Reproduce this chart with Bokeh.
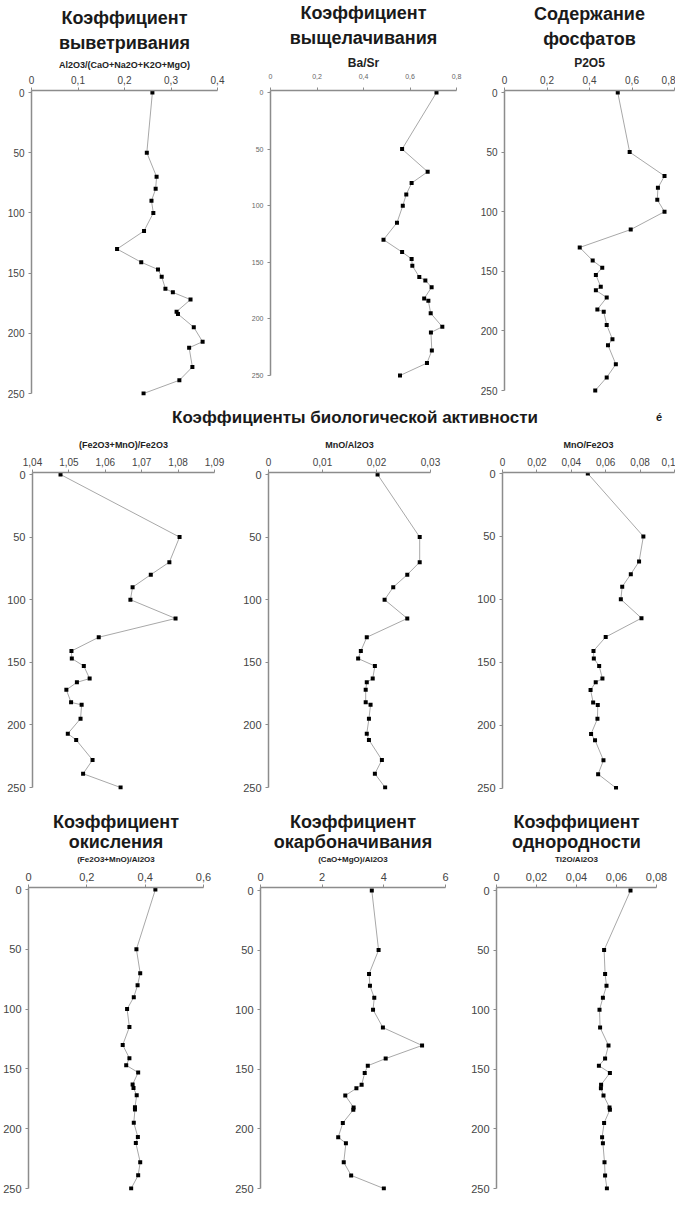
from bokeh.plotting import figure
from bokeh.models import Range1d, FixedTicker, CustomJSTickFormatter, Title, Div
from bokeh.layouts import column, row
from bokeh.embed import file_html
from bokeh.resources import INLINE

# ---------------- data ----------------
depth = [0, 50, 70, 80, 90, 100, 115, 130, 141, 147, 153, 163, 166, 172, 182, 184, 195, 207, 212, 228, 239, 250]

weathering = [0.260, 0.248, 0.269, 0.267, 0.258, 0.262, 0.242, 0.184, 0.236, 0.272, 0.280,
              0.288, 0.304, 0.342, 0.312, 0.315, 0.349, 0.368, 0.339, 0.346, 0.318, 0.241]
leaching = [0.714, 0.566, 0.676, 0.607, 0.584, 0.569, 0.544, 0.486, 0.566, 0.607, 0.610,
            0.640, 0.666, 0.693, 0.661, 0.679, 0.689, 0.739, 0.690, 0.694, 0.673, 0.557]
phosphate = [0.533, 0.589, 0.753, 0.722, 0.719, 0.753, 0.594, 0.354, 0.415, 0.460, 0.430,
             0.453, 0.430, 0.481, 0.437, 0.467, 0.481, 0.508, 0.487, 0.524, 0.481, 0.427]
fe_mn_fe = [1.0477, 1.0804, 1.0776, 1.0725, 1.0675, 1.0669, 1.0793, 1.0582, 1.0507, 1.0508, 1.0541,
            1.0557, 1.0522, 1.0493, 1.0506, 1.0535, 1.0532, 1.0497, 1.0520, 1.0565, 1.0539, 1.0642]
mn_al = [0.0202, 0.0280, 0.0280, 0.0257, 0.0231, 0.0215, 0.0257, 0.0182, 0.0171, 0.0166, 0.0197,
         0.0193, 0.0182, 0.0180, 0.0180, 0.0189, 0.0186, 0.0182, 0.0186, 0.0210, 0.0197, 0.0216]
mn_fe = [0.0496, 0.0819, 0.0794, 0.0746, 0.0696, 0.0688, 0.0808, 0.0600, 0.0529, 0.0531, 0.0562,
         0.0581, 0.0542, 0.0512, 0.0527, 0.0554, 0.0552, 0.0515, 0.0538, 0.0587, 0.0556, 0.0660]
oxidation = [0.435, 0.370, 0.383, 0.374, 0.361, 0.338, 0.346, 0.323, 0.346, 0.335, 0.376,
             0.357, 0.360, 0.371, 0.365, 0.365, 0.361, 0.375, 0.368, 0.383, 0.376, 0.352]
carbonation = [3.61, 3.83, 3.52, 3.55, 3.69, 3.65, 3.97, 5.24, 4.06, 3.48, 3.38,
               3.28, 3.11, 2.75, 3.02, 3.01, 2.67, 2.52, 2.77, 2.70, 2.94, 4.00]
homogeneity = [0.0670, 0.0538, 0.0543, 0.0550, 0.0532, 0.0515, 0.0518, 0.0560, 0.0543, 0.0512, 0.0567,
               0.0523, 0.0522, 0.0535, 0.0565, 0.0567, 0.0538, 0.0528, 0.0532, 0.0540, 0.0543, 0.0552]

depth_ticks = [0, 50, 100, 150, 200, 250]
main_title = "Коэффициенты биологической активности"

FONT = "Liberation Sans"
AXIS_COLOR = "#8c8c8c"

fmt = CustomJSTickFormatter(code="return String(Math.round(tick*1e6)/1e6).replace('.', ',');")


def panel(values, xr, xticks, w, h, L, R, T, B, row_top, y0, y250, axis_label, titles=(),
          label_size="9px", xtick_size="10px", ytick_size="10px", tick_color="#444444",
          title_size="18px", tick_standoff=4, label_standoff=4, t2_standoff=6, t1_standoff=0):
    # frame edges on the page (layout offset row_top)
    f_top = row_top + T
    f_bot = row_top + h - B
    s = (y250 - y0) / 250.0
    top_val = -(y0 - f_top) / s
    bot_val = 250 + (f_bot - y250) / s
    p = figure(width=w, height=h, title=None,
               x_range=Range1d(xr[0], xr[1]), y_range=Range1d(bot_val, top_val),
               x_axis_location="above", output_backend="svg", toolbar_location=None,
               min_border_left=L, min_border_right=R, min_border_top=T, min_border_bottom=B)
    p.line(x=values, y=depth, line_color="#a8a8a8", line_width=1)
    p.scatter(x=values, y=depth, marker="square", size=4, fill_color="black", line_color=None)
    p.xgrid.visible = False
    p.ygrid.visible = False
    p.outline_line_color = None
    p.background_fill_color = "white"
    p.border_fill_color = "white"

    xa = p.xaxis[0]
    xa.ticker = FixedTicker(ticks=xticks)
    xa.formatter = fmt
    xa.axis_label = axis_label
    xa.axis_label_text_font = FONT
    xa.axis_label_text_font_style = "bold"
    xa.axis_label_text_font_size = label_size
    xa.axis_label_text_color = "#222222"
    xa.axis_label_standoff = label_standoff
    xa.major_label_text_font = FONT
    xa.major_label_text_font_size = xtick_size
    xa.major_label_text_color = tick_color
    xa.major_label_standoff = tick_standoff

    ya = p.yaxis[0]
    ya.ticker = FixedTicker(ticks=depth_ticks)
    ya.bounds = (top_val, 250)
    ya.major_label_text_font = FONT
    ya.major_label_text_font_size = ytick_size
    ya.major_label_text_color = tick_color
    ya.major_label_standoff = 4

    for ax in (xa, ya):
        ax.axis_line_color = AXIS_COLOR
        ax.axis_line_width = 1.5
        ax.major_tick_line_color = AXIS_COLOR
        ax.major_tick_out = 3
        ax.major_tick_in = 0
        ax.minor_tick_line_color = None

    if titles:
        t1, t2 = titles
        p.add_layout(Title(text=t2, align="center", text_font=FONT, text_font_size=title_size,
                           text_font_style="bold", text_color="#1a1a1a", standoff=t2_standoff), "above")
        p.add_layout(Title(text=t1, align="center", text_font=FONT, text_font_size=title_size,
                           text_font_style="bold", text_color="#1a1a1a", standoff=t1_standoff), "above")
    return p


# page y of each row's top edge (8px page margin)
R1, R2, R3 = 8, 434, 808

# Row 1 (height 410)
p1 = panel(weathering, (0, 0.4), [0, 0.1, 0.2, 0.3, 0.4], 240, 410, 31, 23, 90, 15, R1, 100, 401,
           "Al2O3/(CaO+Na2O+K2O+MgO)", ["Коэффициент", "выветривания"], label_size="9px",
           tick_standoff=4, label_standoff=3, t2_standoff=7, t1_standoff=0)
p2 = panel(leaching, (0, 0.8), [0, 0.2, 0.4, 0.6, 0.8], 236, 410, 30, 20, 90, 15, R1, 100, 383,
           "Ba/Sr", ["Коэффициент", "выщелачивания"], label_size="12px",
           xtick_size="7px", ytick_size="7px", tick_color="#666666",
           tick_standoff=9, label_standoff=1, t2_standoff=9, t1_standoff=-2)
p3 = panel(phosphate, (0, 0.8), [0, 0.2, 0.4, 0.6, 0.8], 199, 410, 28, 1, 90, 15, R1, 100, 398,
           "P2O5", ["Содержание", "фосфатов"], label_size="12px",
           tick_standoff=4, label_standoff=3, t2_standoff=8, t1_standoff=-2)

# Row 2 (height 374)
p4 = panel(fe_mn_fe, (1.04, 1.09), [1.04, 1.05, 1.06, 1.07, 1.08, 1.09], 234, 374, 32, 20, 46, 11, R2,
           482, 795, "(Fe2O3+MnO)/Fe2O3", ytick_size="11px", tick_standoff=4, label_standoff=5)
p5 = panel(mn_al, (0, 0.03), [0, 0.01, 0.02, 0.03], 238, 374, 34, 42, 46, 11, R2,
           482, 795, "MnO/Al2O3", ytick_size="11px", tick_standoff=4, label_standoff=5)
p6 = panel(mn_fe, (0, 0.1), [0, 0.02, 0.04, 0.06, 0.08, 0.1], 203, 374, 30, 1, 46, 11, R2,
           481, 795.5, "MnO/Fe2O3", ytick_size="11px", tick_standoff=4, label_standoff=5)

# Row 3 (height 395)
p7 = panel(oxidation, (0, 0.6), [0, 0.2, 0.4, 0.6], 232, 395, 28, 29, 87, 5, R3, 897, 1196,
           "(Fe2O3+MnO)/Al2O3", ["Коэффициент", "окисления"], label_size="8px",
           xtick_size="11px", ytick_size="11px", tick_standoff=4, label_standoff=6,
           t2_standoff=-1, t1_standoff=-3)
p8 = panel(carbonation, (0, 6), [0, 2, 4, 6], 234, 395, 28, 21, 87, 5, R3, 898, 1196,
           "(CaO+MgO)/Al2O3", ["Коэффициент", "окарбоначивания"], label_size="8px",
           xtick_size="11px", ytick_size="11px", tick_standoff=4, label_standoff=6,
           t2_standoff=-1, t1_standoff=-3)
p9 = panel(homogeneity, (0, 0.08), [0, 0.02, 0.04, 0.06, 0.08], 209, 395, 30, 19, 87, 5, R3, 898, 1196,
           "Ti2O/Al2O3", ["Коэффициент", "однородности"], label_size="8px",
           xtick_size="11px", ytick_size="11px", tick_standoff=4, label_standoff=6,
           t2_standoff=-1, t1_standoff=-3)

heading = Div(
    text=('<div style="position:relative;width:675px;height:16px;font-family:\'Liberation Sans\';'
          'font-weight:bold;color:#1a1a1a;">'
          '<span style="position:absolute;left:355px;top:-1px;transform:translateX(-50%);'
          'white-space:nowrap;font-size:17px;line-height:18px;">' + main_title + '</span>'
          '<span style="position:absolute;left:656px;top:2px;font-size:11px;line-height:11px;">é</span>'
          '</div>'),
    width=675, height=16, margin=0)

layout = column(row(p1, p2, p3), heading, row(p4, p5, p6), row(p7, p8, p9))

open("out.html", "w").write(file_html(layout, INLINE))
